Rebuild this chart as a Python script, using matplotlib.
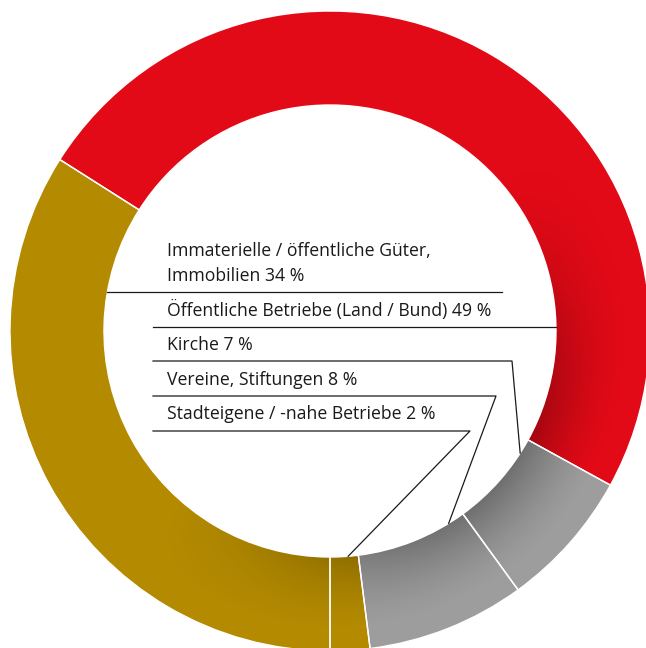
import numpy as np
import matplotlib.pyplot as plt

# shares, in drawing order (counter-clockwise from 6 o'clock)
labels = [
    "Stadteigene / -nahe Betriebe",
    "Vereine, Stiftungen",
    "Kirche",
    "Öffentliche Betriebe (Land / Bund)",
    "Immaterielle / öffentliche Güter,\nImmobilien",
]
shares = [2, 8, 7, 49, 34]
colors = ["#b38a00", "#9d9d9d", "#9d9d9d", "#e30a17", "#b38a00"]

# label stack, top to bottom (indices into the lists above)
label_order = [4, 3, 2, 1, 0]

W, H = 646, 648
cx, cy = 330, 331
r_out, r_in = 320, 226

fig = plt.figure(figsize=(W / 100, H / 100), dpi=100)
ax = fig.add_axes([0, 0, 1, 1])

# y axis is inverted below, so clockwise in data = counter-clockwise on screen
pie_kw = dict(startangle=90, counterclock=False, radius=r_out, center=(cx, cy))
ax.pie(shares, colors=colors, wedgeprops=dict(width=r_out - r_in, linewidth=0), **pie_kw)

ax.set_xlim(0, W)
ax.set_ylim(H, 0)
ax.set_aspect("equal")
ax.axis("off")

# soft inner shadow toward the lower right
yy, xx = np.mgrid[0:H, 0:W] + 0.5
dx = xx - cx
dy = cy - yy
rr = np.hypot(dx, dy)
th = np.arctan2(dy, dx)
fade = np.clip(1 - (rr - r_in) / 75, 0, 1) ** 1.5
ang = np.clip(np.cos(th - np.radians(-45)), 0, 1) ** 1.6
alpha = 0.30 * fade * ang
alpha[(rr < r_in) | (rr > r_out)] = 0
shade = np.zeros((H, W, 4))
shade[..., 3] = alpha
ax.imshow(shade, extent=(0, W, H, 0), origin="upper", zorder=2, interpolation="bilinear")

# thin white separators
ax.pie(shares, colors=["none"] * len(shares),
       wedgeprops=dict(width=r_out - r_in, linewidth=1.0, edgecolor="white",
                       fill=False, zorder=3), **pie_kw)
ax.set_xlim(0, W)
ax.set_ylim(H, 0)
ax.axis("off")

# wedge angle ranges on screen (math angles, y up)
cum = np.concatenate([[0], np.cumsum(shares)])
start = -90 + 360 * cum[:-1] / 100
end = -90 + 360 * cum[1:] / 100

text_x = 167
line_gap = 25
baselines = [281, 316, 350, 385, 419]
rule_y = [292, 327, 361, 396, 431]
rule_x0 = [None, 153, 153, 153, 153]
bend_x = [502, None, 512, 496, 470]
frac = [None, None, 0.845, 0.85, 0.64]

lc = "#1a1a1a"
for k, i in enumerate(label_order):
    rows = f"{labels[i]} {shares[i]} %".split("\n")
    for j, row in enumerate(rows):
        ax.text(text_x, baselines[k] - (len(rows) - 1 - j) * line_gap, row,
                fontsize=12.7, family=["Open Sans", "DejaVu Sans"], color="#1a1a1a",
                va="baseline", ha="left", zorder=5)
    y = rule_y[k]
    half = np.sqrt(r_in ** 2 - (y - cy) ** 2)
    if k == 0:
        ax.plot([cx - half, bend_x[k]], [y, y], color=lc, lw=0.9, zorder=5)
    elif k == 1:
        ax.plot([rule_x0[k], cx + half], [y, y], color=lc, lw=0.9, zorder=5)
    else:
        a = np.radians(start[i] + frac[k] * (end[i] - start[i]))
        px, py = cx + r_in * np.cos(a), cy - r_in * np.sin(a)
        ax.plot([rule_x0[k], bend_x[k], px], [y, y, py], color=lc, lw=0.9, zorder=5)

fig.savefig("out.png", dpi=100)
